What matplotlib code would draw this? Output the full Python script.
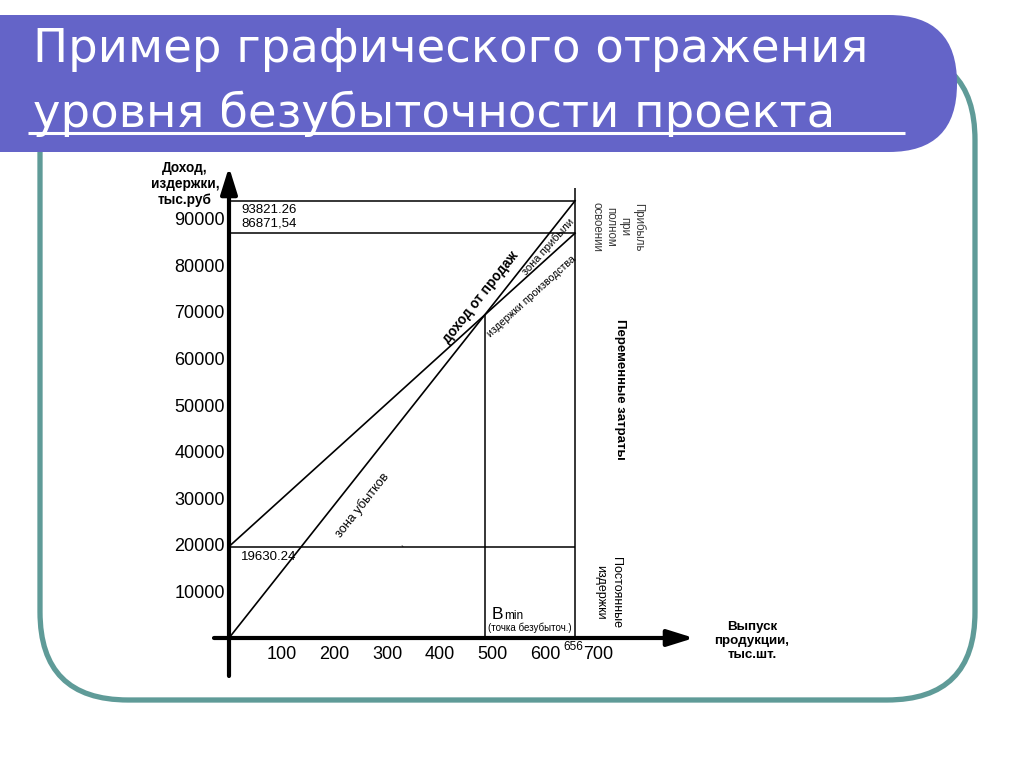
import numpy as np
import matplotlib
matplotlib.use("Agg")
import matplotlib.pyplot as plt
from matplotlib.patches import FancyBboxPatch

# --- dane z wykresu ---
volume_full = 656            # выпуск при полном освоении, тыс.шт.
revenue_full = 93821.26      # доход от продаж при полном освоении
costs_full = 86871.54        # издержки производства при полном освоении
fixed_costs = 19630.24       # постоянные издержки
x_ticks = [100, 200, 300, 400, 500, 600, 700]
y_ticks = [10000, 20000, 30000, 40000, 50000, 60000, 70000, 80000, 90000]

volume = np.array([0, volume_full])
revenue = np.array([0, revenue_full])
costs = np.array([fixed_costs, costs_full])

price = revenue_full / volume_full
unit_var = (costs_full - fixed_costs) / volume_full
breakeven = fixed_costs / (price - unit_var)

# geometria slajdu (piksele)
W, H = 1024, 767
X0, Y0 = 229, 638            # początek układu
SX, SY = 0.5275, 0.00466     # px na jednostkę

plt.rcParams["font.family"] = ["Liberation Sans", "DejaVu Sans"]


def px2x(p):
    return (p - X0) / SX


def px2y(p):
    return (Y0 - p) / SY


fig = plt.figure(figsize=(W / 100, H / 100), dpi=100)

# tło: ramka + pasek tytułu
bg = fig.add_axes([0, 0, 1, 1])
bg.set_xlim(0, W)
bg.set_ylim(H, 0)
bg.axis("off")
bg.add_patch(FancyBboxPatch((40, 52), 935, 648, boxstyle="round,pad=0,rounding_size=88",
                            fill=False, ec="#5f9b98", lw=3.8))
bg.add_patch(FancyBboxPatch((-120, 15), 1077, 137, boxstyle="round,pad=0,rounding_size=68",
                            fc="#6464c8", ec="none"))
bg.text(33, 62, "Пример графического отражения", color="white", fontsize=33.5,
        family="DejaVu Sans", va="baseline", ha="left")
bg.text(33, 127, "уровня безубыточности проекта", color="white", fontsize=33.5,
        family="DejaVu Sans", va="baseline", ha="left")
bg.plot([28, 905], [133, 133], color="white", lw=2.2, solid_capstyle="butt")

bg.text(185, 184, "Доход,\nиздержки,\nтыс.руб", ha="center", va="center",
        fontsize=9.8, fontweight="bold", linespacing=1.2)
bg.text(752, 641, "Выпуск\nпродукции,\nтыс.шт.", ha="center", va="center",
        fontsize=9.6, fontweight="bold", linespacing=1.2)
bg.text(402, 551, "`", fontsize=7, ha="center", va="center")

# wykres
ax = fig.add_axes([0, 0, 1, 1])
ax.patch.set_visible(False)
ax.set_xlim(-X0 / SX, (W - X0) / SX)
ax.set_ylim(-(H - Y0) / SY, Y0 / SY)
for s in ax.spines.values():
    s.set_color("none")
ax.spines["bottom"].set_position(("data", 0))
ax.spines["left"].set_position(("data", 0))
ax.set_xticks(x_ticks)
ax.set_xticklabels([str(v) for v in x_ticks])
ax.set_yticks(y_ticks)
ax.set_yticklabels([str(v) for v in y_ticks])
ax.tick_params(length=0, labelsize=13)
ax.tick_params(axis="x", pad=6)
ax.tick_params(axis="y", pad=3)

arrow = dict(arrowstyle="-|>,head_length=0.8,head_width=0.25", lw=3, color="black",
             mutation_scale=20, shrinkA=0, shrinkB=0)
ax.annotate("", xy=(px2x(694), 0), xytext=(px2x(214), 0), arrowprops=arrow)
ax.annotate("", xy=(0, px2y(167)), xytext=(0, px2y(676)), arrowprops=arrow)

ax.plot(volume, revenue, color="black", lw=1.2)
ax.plot(volume, costs, color="black", lw=1.2)
ax.hlines([revenue_full, costs_full, fixed_costs], 0, volume_full, color="black", lw=1.1)
ax.vlines(volume_full, 0, revenue_full + 13 / SY, color="black", lw=1.1)
ax.vlines(breakeven, 0, price * breakeven, color="black", lw=1.1)


def note(text, xy, off, **kw):
    ax.annotate(text, xy, xytext=off, textcoords="offset pixels", **kw)


note("93821.26", (0, revenue_full), (12, -9), ha="left", va="center", fontsize=9.5)
note("86871,54", (0, costs_full), (12, 10), ha="left", va="center", fontsize=9.5)
note("19630.24", (0, fixed_costs), (12, -10), ha="left", va="center", fontsize=9.5)
note("656", (volume_full, 0), (8, -3), ha="right", va="top", fontsize=8.5)
note("B", (breakeven, 0), (7, 19), ha="left", va="baseline", fontsize=12.5)
note("min", (breakeven, 0), (20, 19), ha="left", va="baseline", fontsize=8.5)
note("(точка безубыточ.)", ((breakeven + volume_full) / 2, 0), (0, 10),
     ha="center", va="center", fontsize=7.0)

ang_rev = np.degrees(np.arctan2(revenue_full * SY, volume_full * SX))
ang_cost = np.degrees(np.arctan2((costs_full - fixed_costs) * SY, volume_full * SX))

xr = px2x(481)
note("доход от продаж", (xr, price * xr), (0, 22), rotation=ang_rev, rotation_mode="anchor",
     ha="center", va="center", fontsize=9.8, fontweight="bold")
xp = px2x(548)
note("зона прибыли", (xp, (price * xp + fixed_costs + unit_var * xp) / 2), (0, 0),
     rotation=48, rotation_mode="anchor", ha="center", va="center", fontsize=8)
xc = px2x(532)
note("издержки производства", (xc, fixed_costs + unit_var * xc), (0, -24),
     rotation=ang_cost, rotation_mode="anchor", ha="center", va="center", fontsize=7.6)
xl = px2x(362)
note("зона убытков", (xl, price * xl), (0, -35), rotation=ang_rev, rotation_mode="anchor",
     ha="center", va="center", fontsize=9.2)

note("Прибыль\nпри\nполном\nосвоении", (volume_full, (revenue_full + costs_full) / 2), (43, -10),
     rotation=-90, ha="center", va="center", multialignment="center", fontsize=8.3,
     color="#3a3a3a", linespacing=1.2)
note("Переменные затраты", (volume_full, (costs_full + fixed_costs) / 2), (45, 0),
     rotation=-90, ha="center", va="center", fontsize=9.5, fontweight="bold")
note("Постоянные\nиздержки", (volume_full, fixed_costs / 2), (33, 0),
     rotation=-90, ha="center", va="center", multialignment="center", fontsize=9,
     linespacing=1.45)

fig.savefig("out.png", dpi=100)
